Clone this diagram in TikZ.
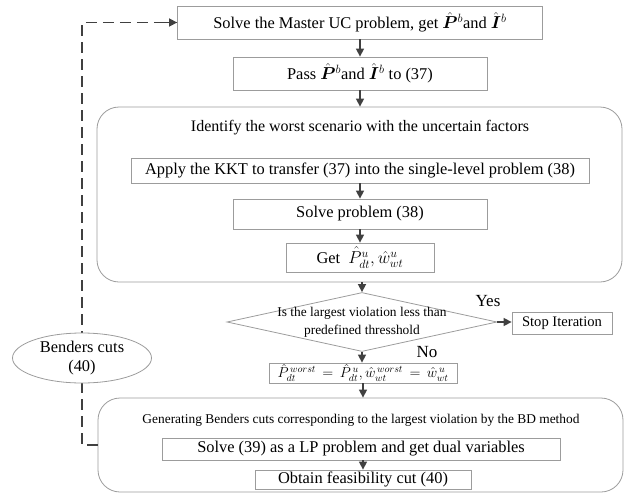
\documentclass[tikz,border=0pt]{standalone}
\usepackage{amsmath,amssymb}
\usepackage{fontspec}
\setmainfont{Liberation Serif}
\usetikzlibrary{shapes.geometric,arrows.meta}

\definecolor{linegray}{HTML}{404040}
\definecolor{boxgray}{HTML}{9C9C9C}

\tikzset{
    stepbox/.style={draw=boxgray, line width=0.8pt, inner sep=0pt, fill=white,
        font=\fontsize{16.4}{18}\selectfont},
    groupbox/.style={draw=boxgray, line width=0.8pt, rounded corners=22pt, inner sep=0pt},
    decision/.style={diamond, draw=boxgray, line width=0.8pt, inner sep=0pt, aspect=4.6},
    flow/.style={draw=linegray, line width=1.5pt, -{Triangle[length=8pt,width=8pt]}},
    loopline/.style={draw=linegray, line width=1.5pt, dash pattern=on 11pt off 6pt},
}

\begin{document}
\begin{tikzpicture}[x=1pt, y=-1pt]
    \useasboundingbox (0,0) rectangle (633,493);

    % Master problem
    \node[stepbox, minimum width=365pt, minimum height=33pt] (master) at (360,22.5)
        {Solve the Master UC problem, get $\hat{\boldsymbol{P}}{}^{b}$and $\hat{\boldsymbol{I}}{}^{b}$};
    \node[stepbox, minimum width=254pt, minimum height=33pt] (pass) at (360,73.5)
        {Pass $\hat{\boldsymbol{P}}{}^{b}$and $\hat{\boldsymbol{I}}{}^{b}$ to (37)};

    % Worst scenario block
    \node[groupbox, minimum width=525pt, minimum height=175pt] (worst) at (359.5,194.5) {};
    \node[font=\fontsize{16}{18}\selectfont] (worsttitle) at (360,128)
        {Identify the worst scenario with the uncertain factors};
    \node[stepbox, minimum width=458pt, minimum height=25pt] (kkt) at (360,170.5)
        {Apply the KKT to transfer (37) into the single-level problem (38)};
    \node[stepbox, minimum width=254pt, minimum height=30pt] (solve) at (360,214)
        {Solve problem (38)};
    \node[stepbox, minimum width=148pt, minimum height=29pt] (get) at (360,257.5)
        {Get \ $\hat{P}_{dt}^{u}, \hat{w}_{wt}^{u}$};

    % Check
    \node[decision, minimum width=270pt, minimum height=59pt] (check) at (362,322) {};
    \node[font=\fontsize{13.4}{18}\selectfont, align=center] (checktext) at (362,322)
        {Is the largest violation less than\\predefined thresshold};
    \node[stepbox, minimum width=100pt, minimum height=22pt,
        font=\fontsize{14.6}{16}\selectfont] (stop) at (562,323) {Stop Iteration};
    \node[font=\fontsize{17}{19}\selectfont] (yes) at (488,301) {Yes};
    \node[font=\fontsize{17}{19}\selectfont] (no) at (427,352) {No};
    \node[stepbox, minimum width=188pt, minimum height=20pt,
        font=\fontsize{14}{16}\selectfont] (update) at (363,373)
        {$\hat{P}_{dt}^{\,worst} \,=\, \hat{P}_{dt}^{\,u}, \hat{w}_{wt}^{\,worst} \,=\, \hat{w}_{wt}^{\,u}$};

    % Benders cuts block
    \node[groupbox, minimum width=525pt, minimum height=94pt] (benders) at (360.5,445) {};
    \node[font=\fontsize{13.4}{15}\selectfont] (benderstitle) at (361,420)
        {Generating Benders cuts corresponding to the largest violation by the BD method};
    \node[stepbox, minimum width=398pt, minimum height=22pt] (dual) at (361,449)
        {Solve (39) as a LP problem and get dual variables};
    \node[stepbox, minimum width=216pt, minimum height=19pt] (cut) at (363,479.5)
        {Obtain feasibility cut (40)};

    % Arrows
    \draw[flow] (master) -- (pass);
    \draw[flow] (pass) -- (worst.north -| pass);
    \draw[flow] (kkt) -- (solve);
    \draw[flow] (solve) -- (get);
    \draw[flow] (worst.south -| check) -- (check.north);
    \draw[flow] (check.east) -- (stop.west |- check.east);
    \draw[flow] (check.south) -- (update.north -| check.south);
    \draw[flow] (update) -- (benders.north -| update);
    \draw[flow] (dual.south -| cut) -- (cut);

    % Feedback loop
    \coordinate (loopbot) at (82,445);
    \coordinate (looptop) at (82,22.5);
    \draw[loopline] (benders.west) -- (loopbot) -- (looptop) -- (master.west);
    \draw[flow] ([xshift=-12pt]master.west) -- (master.west);
    \node[ellipse, draw=boxgray, line width=0.8pt, fill=white, minimum width=139pt,
        minimum height=50pt, inner sep=0pt, align=center,
        font=\fontsize{16.4}{19}\selectfont] (cutlabel) at (82,358) {Benders cuts\\(40)};
\end{tikzpicture}
\end{document}
